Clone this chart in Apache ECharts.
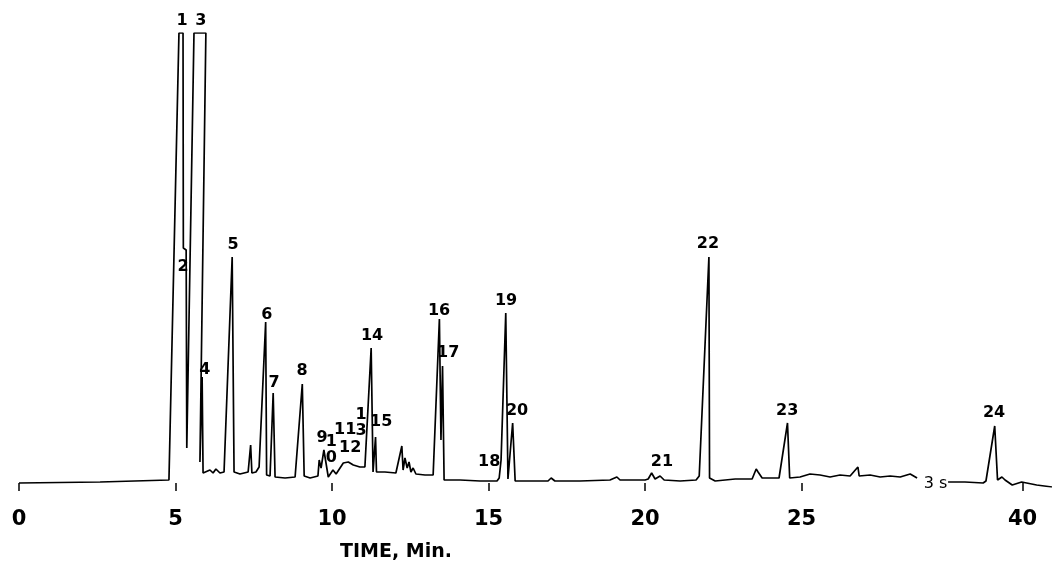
<!DOCTYPE html>
<html>
<head>
<meta charset="utf-8">
<script src="https://cdn.jsdelivr.net/npm/echarts@6.0.0/dist/echarts.min.js"></script>
<style>
    html, body { margin: 0; padding: 0; background: #fff; }
    #chart { width: 1052px; height: 568px; }
</style>
</head>
<body>
<div id="chart"></div>
<script>
// trace before the axis break (minutes, detector response)
const timeBefore = [0, 2.59, 4.79, 5.11, 5.24, 5.25, 5.34, 5.36, 5.59, 5.97, 5.78, 5.85, 5.88, 6.10, 6.20, 6.29, 6.42, 6.55, 6.81, 6.87,
    7.06, 7.32, 7.40, 7.44, 7.57, 7.67, 7.88, 7.91, 8.02, 8.12, 8.18, 8.50, 8.82, 8.88, 9.05, 9.11, 9.30, 9.55, 9.59, 9.65,
    9.74, 9.88, 10.03, 10.13, 10.36, 10.52, 10.68, 10.89, 11.05, 11.25, 11.31, 11.36, 11.39, 11.42, 11.69, 12.04, 12.23, 12.27, 12.33, 12.40,
    12.46, 12.52, 12.59, 12.68, 12.97, 13.23, 13.43, 13.48, 13.53, 13.58, 14.09, 14.73, 15.27, 15.34, 15.40, 15.55, 15.62, 15.77, 15.85, 16.33,
    16.90, 17.00, 17.12, 17.92, 18.88, 19.10, 19.20, 20.00, 20.10, 20.21, 20.32, 20.48, 20.61, 21.12, 21.63, 21.73, 22.04, 22.06, 22.24, 22.88,
    23.42, 23.55, 23.61, 23.74, 24.28, 24.55, 24.62, 24.95, 25.27, 25.59, 25.91, 26.23, 26.55, 26.80, 26.84, 27.19, 27.51, 27.83, 28.15, 28.47,
    28.69];
const signalBefore = [0, 1, 3, 450, 450, 235, 233, 35, 450, 450, 21, 106, 10, 13, 10, 14, 10, 11, 226, 11,
    9, 11, 38, 10, 11, 16, 161, 8, 7, 90, 6, 5, 6, 8, 99, 7, 5, 7, 23, 15,
    33, 6, 13, 9, 20, 21, 18, 16, 16, 135, 11, 13, 46, 11, 11, 10, 37, 13, 25, 15,
    21, 11, 15, 9, 8, 8, 164, 43, 117, 3, 3, 2, 2, 5, 23, 170, 4, 60, 2, 2,
    2, 5, 2, 2, 3, 6, 3, 3, 4, 10, 4, 7, 3, 2, 3, 7, 226, 5, 2, 4,
    4, 14, 11, 5, 5, 60, 5, 6, 9, 8, 6, 8, 7, 16, 7, 8, 6, 7, 6, 9,
    5];
// trace after the break
const timeAfter = [37.62, 38.16, 38.74, 38.83, 39.11, 39.20, 39.34, 39.44, 39.67, 39.97, 40.45, 40.94];
const signalAfter = [1, 1, 0, 2, 57, 3, 6, 3, -2, 1, -2, -4];

// peak numbers and where their labels sit
const peakNames = ["1", "3", "2", "4", "5", "6", "7", "8", "9", "1\n0", "11", "12", "1\n3", "14", "15", "16", "17", "18", "19", "20", "21", "22", "23", "24"];
const peakTimes = [5.21, 5.81, 5.24, 5.94, 6.84, 7.92, 8.15, 9.04, 9.68, 9.98, 10.42, 10.58, 10.93, 11.28, 11.57, 13.42, 13.71, 15.02, 15.56, 15.91, 20.54, 22.01, 24.54, 39.09];
const peakLabelY = [462, 462, 216, 113, 238, 168, 100, 112, 45, 33, 53, 35, 60, 147, 61, 172, 130, 21, 182, 72, 21, 239, 72, 70];

const tickTimes = [0, 5, 10, 15, 20, 25, 40];

const chart = echarts.init(document.getElementById("chart"));
const pairs = (xs, ys) => xs.map((x, i) => [x, ys[i]]);
const lineStyle = { color: "#000", width: 1.7 };
const font = "DejaVu Sans";

const textLabel = (size, weight) => ({
    show: true,
    position: "inside",
    formatter: (p) => p.data[2],
    color: "#000",
    opacity: 1,
    textBorderWidth: 0,
    fontFamily: font,
    fontWeight: weight,
    fontSize: size,
    lineHeight: 16,
});

const option = {
    backgroundColor: "#fff",
    animation: false,
    grid: { left: 19, right: 0, top: 33, bottom: 81 },
    title: {
        text: "TIME, Min.",
        left: 391,
        top: 538,
        textAlign: "center",
        textStyle: { fontFamily: font, fontWeight: "bold", fontSize: 19, color: "#000" },
    },
    xAxis: {
        type: "value",
        min: 0,
        max: 40.94,
        breaks: [{ start: 28.9, end: 37.6, gap: 0.76 }],
        breakArea: { show: false },
        axisLine: { show: false },
        splitLine: { show: false },
        axisTick: {
            show: true,
            customValues: tickTimes,
            length: 8,
            lineStyle: { color: "#000", width: 1.5 },
        },
        axisLabel: {
            customValues: tickTimes,
            margin: 22,
            color: "#000",
            fontFamily: font,
            fontWeight: "bold",
            fontSize: 21,
            formatter: (v) => String(v),
        },
    },
    yAxis: { type: "value", min: -4, max: 450, show: false },
    series: [
        {
            type: "line",
            data: pairs(timeBefore, signalBefore),
            symbol: "none",
            lineStyle: lineStyle,
        },
        {
            type: "line",
            data: pairs(timeAfter, signalAfter),
            symbol: "none",
            lineStyle: lineStyle,
        },
        {
            type: "scatter",
            clip: false,
            symbolSize: 0,
            itemStyle: { color: "#000" },
            data: peakTimes.map((t, i) => [t, peakLabelY[i], peakNames[i]]),
            label: textLabel(16, "bold"),
        },
        {
            type: "scatter",
            clip: false,
            symbolSize: 0,
            itemStyle: { color: "#000" },
            data: [[33.25, -1, "3 s"]],
            label: textLabel(16, "normal"),
        },
    ],
};
chart.setOption(option);
</script>
</body>
</html>
